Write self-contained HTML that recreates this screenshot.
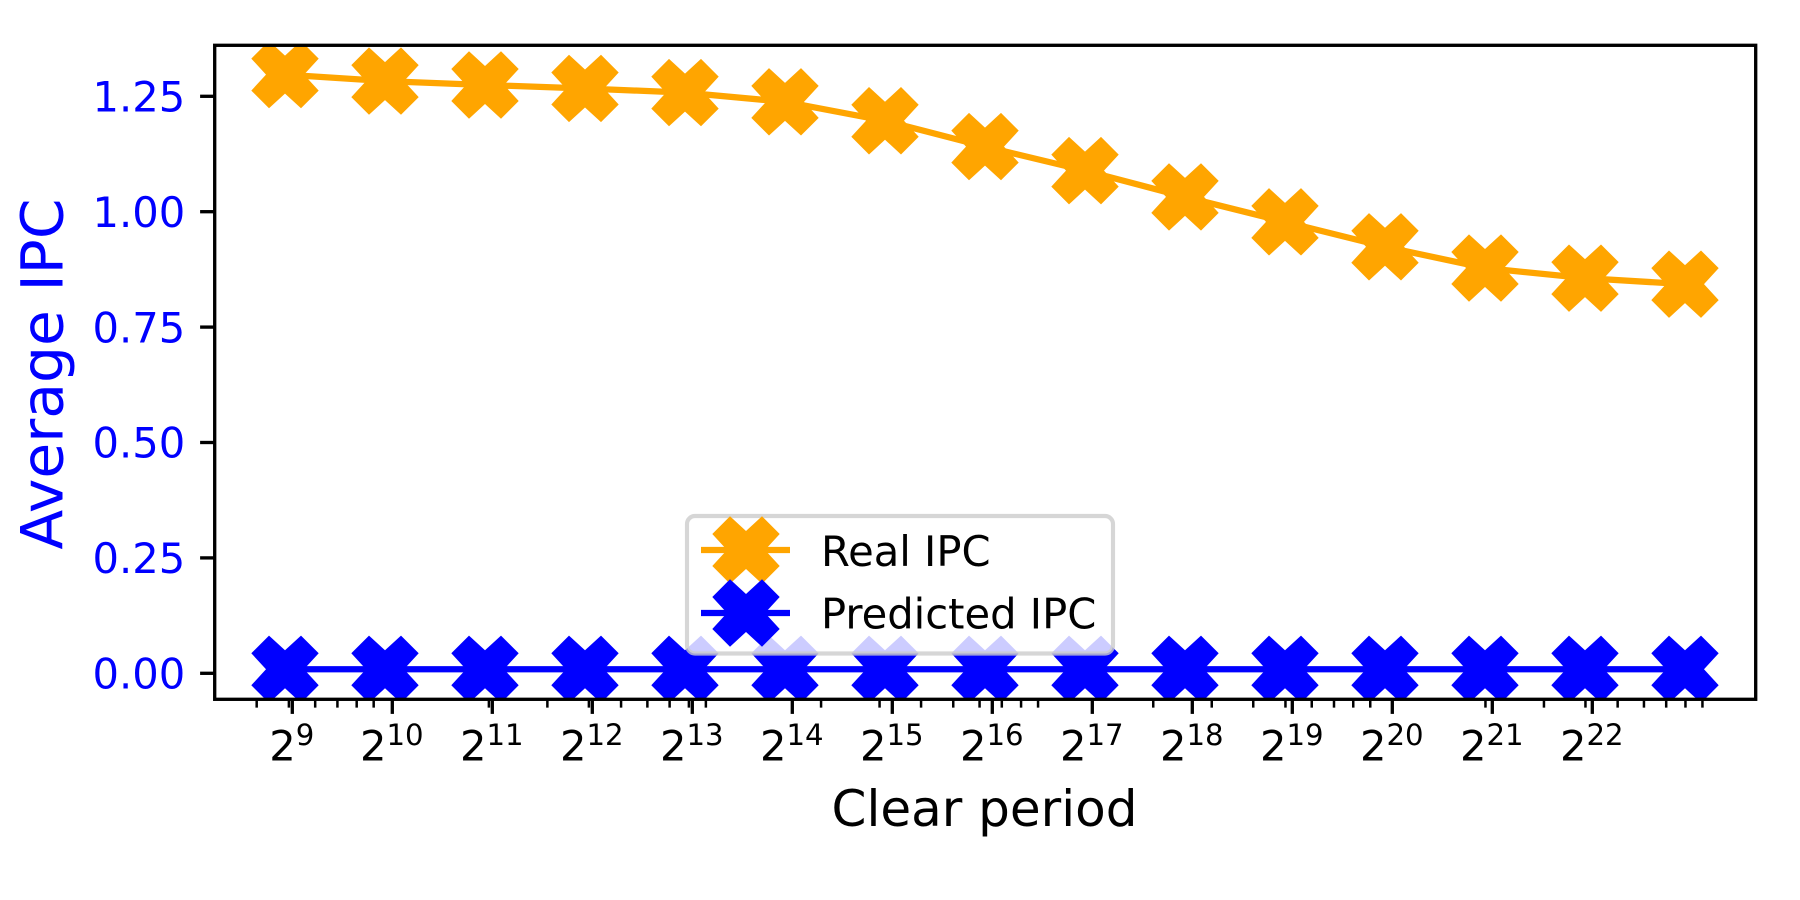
<!DOCTYPE html>
<html>
<head>
<meta charset="utf-8">
<title>Average IPC vs Clear period</title>
<style>
html,body{margin:0;padding:0;background:#fff;}
svg{display:block;font-family:"DejaVu Sans","Liberation Sans",sans-serif;}
</style>
</head>
<body>
<svg id="chart" xmlns="http://www.w3.org/2000/svg" width="1800" height="900" viewBox="0 0 1800 900">
  <rect x="0" y="0" width="1800" height="900" fill="#ffffff"/>
  <defs><clipPath id="plot-clip"><rect x="214.7" y="45.3" width="1541" height="654"/></clipPath></defs>
  <g id="series-layer" clip-path="url(#plot-clip)"></g>
  <g id="y-axis"></g>
  <g id="x-axis"></g>
  <rect x="214.7" y="45.3" width="1541" height="654" fill="none" stroke="#000" stroke-width="3.33"/>
  <text transform="translate(62.7,374) rotate(-90)" text-anchor="middle" font-size="58.33" fill="#0000ff">Average IPC</text>
  <text x="984.5" y="826" text-anchor="middle" font-size="50" fill="#000">Clear period</text>
  <g id="legend">
    <rect x="687" y="516" width="426" height="137.5" rx="8" ry="8" fill="#ffffff" fill-opacity="0.8" stroke="#cccccc" stroke-opacity="0.8" stroke-width="4.17"/>
    <g id="legend-keys"></g>
    <text x="821" y="566" font-size="41.67" fill="#000">Real IPC</text>
    <text x="821" y="628.7" font-size="41.67" fill="#000">Predicted IPC</text>
  </g>
</svg>
<script>
const clearPeriodExponents = [9,10,11,12,13,14,15,16,17,18,19,20,21,22,23];
const realIpc = [1.297,1.283,1.2745,1.267,1.258,1.238,1.197,1.141,1.089,1.032,0.978,0.924,0.878,0.856,0.843];
const predictedIpc = [0.0087,0.0087,0.0087,0.0087,0.0087,0.0087,0.0087,0.0087,0.0087,0.0087,0.0087,0.0087,0.0087,0.0087,0.0087];
const yTickValues = [0,0.25,0.5,0.75,1,1.25];
const yTickLabels = ["0.00","0.25","0.50","0.75","1.00","1.25"];
const xTickExponents = [9,10,11,12,13,14,15,16,17,18,19,20,21,22];
const minorTickDecades = [2,3,4,5,6,7];
const minorTickMultipliers = [2,3,4,5,6,7,8,9];

const NS = 'http://www.w3.org/2000/svg';
const PLOT = {left:214.7, right:1755.7, top:45.3, bottom:699.3};
const MARKER_SHIFT = -0.073;
function xScale(log2Value){ return -607.7 + 100*log2Value; }
function yScale(v){ return 673.3 - 461.6*v; }
function svgEl(tag, attrs){
  const el = document.createElementNS(NS, tag);
  for (const k in attrs) el.setAttribute(k, attrs[k]);
  return el;
}
function markerPoints(cx, cy){
  const tip = 33.7, arm = 16, notch = 19;
  const pts = [[-arm,-tip],[0,-notch],[arm,-tip],[tip,-arm],[notch,0],[tip,arm],[arm,tip],[0,notch],[-arm,tip],[-tip,arm],[-notch,0],[-tip,-arm]];
  return pts.map(p => (cx+p[0]).toFixed(2)+','+(cy+p[1]).toFixed(2)).join(' ');
}

const seriesLayer = document.getElementById('series-layer');
function drawSeries(values, color, key){
  const coords = values.map((v,i) => [xScale(clearPeriodExponents[i]+MARKER_SHIFT), yScale(v)]);
  const line = svgEl('polyline', {points:coords.map(c => c[0].toFixed(2)+','+c[1].toFixed(2)).join(' '), fill:'none', stroke:color, 'stroke-width':6.25, 'stroke-linejoin':'round'});
  
  
  seriesLayer.appendChild(line);
  coords.forEach((c,i) => {
    const m = svgEl('polygon', {points:markerPoints(c[0], c[1]), fill:color});
    
    
    seriesLayer.appendChild(m);
  });
}
drawSeries(realIpc, '#ffa500', 'real-ipc');
drawSeries(predictedIpc, '#0000ff', 'predicted-ipc');

const yAxis = document.getElementById('y-axis');
yTickValues.forEach((v,i) => {
  const y = yScale(v);
  const tick = svgEl('line', {x1:PLOT.left-14.6, x2:PLOT.left, y1:y, y2:y, stroke:'#000', 'stroke-width':3.33});
  
  
  yAxis.appendChild(tick);
  const label = svgEl('text', {x:185.3, y:y+15.2, 'text-anchor':'end', 'font-size':41.67, fill:'#0000ff'});
  label.textContent = yTickLabels[i];
  
  
  yAxis.appendChild(label);
});

const xAxis = document.getElementById('x-axis');
minorTickDecades.forEach(d => {
  minorTickMultipliers.forEach(m => {
    const x = xScale(Math.log2(m*Math.pow(10,d)));
    if (x <= PLOT.left+1 || x >= PLOT.right-1) return;
    const tick = svgEl('line', {x1:x, x2:x, y1:PLOT.bottom, y2:PLOT.bottom+8.33, stroke:'#000', 'stroke-width':2.5});
    
    
    xAxis.appendChild(tick);
  });
});
xTickExponents.forEach(e => {
  const x = xScale(e);
  const tick = svgEl('line', {x1:x, x2:x, y1:PLOT.bottom, y2:PLOT.bottom+14.6, stroke:'#000', 'stroke-width':3.33});
  
  
  xAxis.appendChild(tick);
  const label = svgEl('text', {x:x-0.5, y:760.7, 'text-anchor':'middle', 'font-size':41.67, fill:'#000'});
  
  
  label.appendChild(document.createTextNode('2'));
  const sup = svgEl('tspan', {'font-size':29.17, dy:-15.7});
  sup.textContent = String(e);
  label.appendChild(sup);
  xAxis.appendChild(label);
});

const legendKeys = document.getElementById('legend-keys');
[['#ffa500',550,'legend-key-real'],['#0000ff',613,'legend-key-predicted']].forEach(k => {
  const l = svgEl('line', {x1:701, x2:790, y1:k[1], y2:k[1], stroke:k[0], 'stroke-width':6.25});
  
  
  legendKeys.appendChild(l);
  const m = svgEl('polygon', {points:markerPoints(746, k[1]), fill:k[0]});
  
  
  legendKeys.appendChild(m);
});
</script>
</body>
</html>
